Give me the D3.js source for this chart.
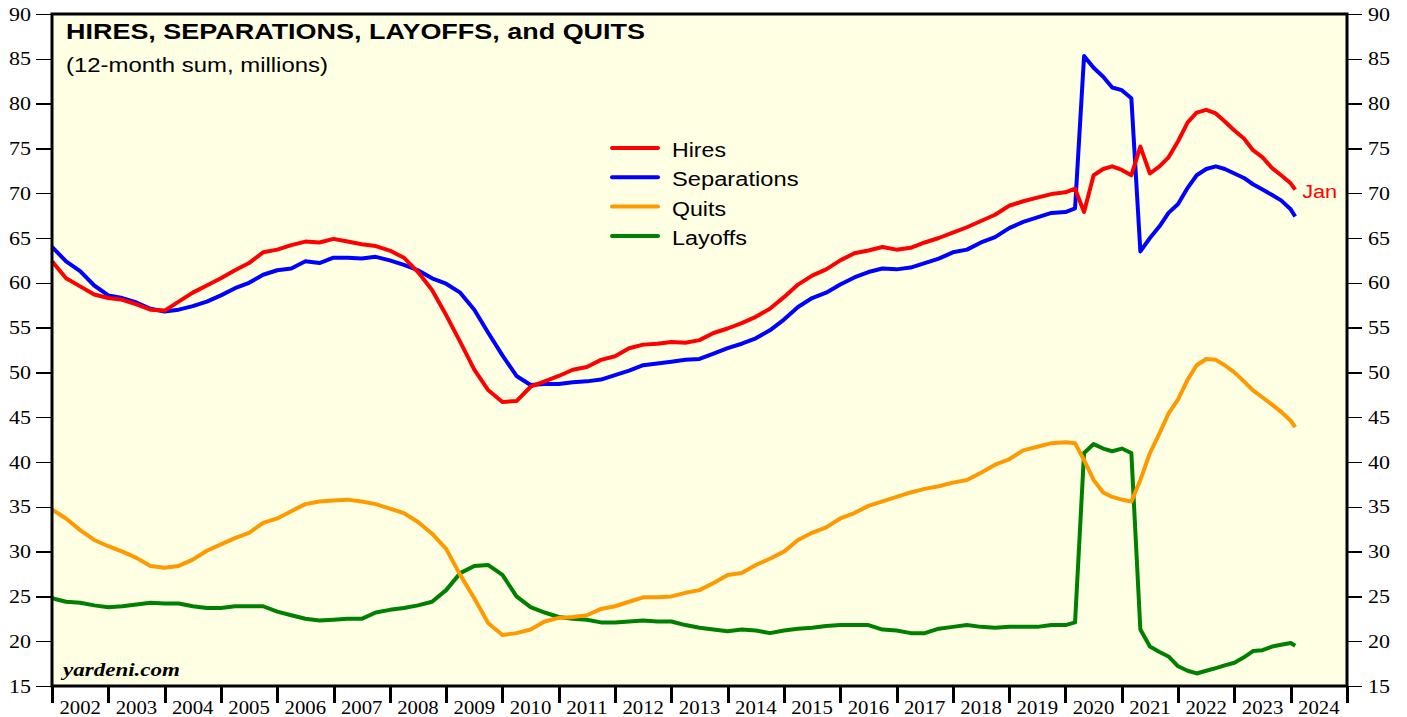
<!DOCTYPE html>
<html lang="en">
<head>
<meta charset="utf-8">
<title>Hires, Separations, Layoffs, and Quits</title>
<script src="https://cdn.jsdelivr.net/npm/d3@7"></script>
<style>
  body { margin: 0; background: #fff; }
  .axis text { font-family: "Liberation Serif", "Times New Roman", serif; font-size: 19px; fill: #000; }
  .axis line { stroke: #000; shape-rendering: crispEdges; }
</style>
</head>
<body>
<script>
// decimal years; quarterly through 2020, then every two months
var dates = [
  2002.00, 2002.25, 2002.50, 2002.75,
  2003.00, 2003.25, 2003.50, 2003.75,
  2004.00, 2004.25, 2004.50, 2004.75,
  2005.00, 2005.25, 2005.50, 2005.75,
  2006.00, 2006.25, 2006.50, 2006.75,
  2007.00, 2007.25, 2007.50, 2007.75,
  2008.00, 2008.25, 2008.50, 2008.75,
  2009.00, 2009.25, 2009.50, 2009.75,
  2010.00, 2010.25, 2010.50, 2010.75,
  2011.00, 2011.25, 2011.50, 2011.75,
  2012.00, 2012.25, 2012.50, 2012.75,
  2013.00, 2013.25, 2013.50, 2013.75,
  2014.00, 2014.25, 2014.50, 2014.75,
  2015.00, 2015.25, 2015.50, 2015.75,
  2016.00, 2016.25, 2016.50, 2016.75,
  2017.00, 2017.25, 2017.50, 2017.75,
  2018.00, 2018.25, 2018.50, 2018.75,
  2019.00, 2019.25, 2019.50, 2019.75,
  2020.00, 2020.17, 2020.33, 2020.50, 2020.67, 2020.83,
  2021.00, 2021.17, 2021.33, 2021.50, 2021.67, 2021.83,
  2022.00, 2022.17, 2022.33, 2022.50, 2022.67, 2022.83,
  2023.00, 2023.17, 2023.33, 2023.50, 2023.67, 2023.83,
  2024.00, 2024.08
];

var hires = [
  62.4, 60.5, 59.6, 58.7,
  58.3, 58.1, 57.6, 57.0,
  56.9, 57.9, 58.9, 59.7,
  60.5, 61.4, 62.2, 63.4,
  63.7, 64.2, 64.6, 64.5,
  64.9, 64.6, 64.3, 64.1,
  63.6, 62.8, 61.2, 59.2,
  56.4, 53.4, 50.3, 48.0,
  46.7, 46.8, 48.4, 49.0,
  49.6, 50.3, 50.6, 51.4,
  51.8, 52.7, 53.1, 53.2,
  53.4, 53.3, 53.6, 54.4,
  54.9, 55.5, 56.2, 57.1,
  58.4, 59.8, 60.8, 61.5,
  62.5, 63.3, 63.6, 64.0,
  63.7, 63.9, 64.5, 65.0,
  65.6, 66.2, 66.9, 67.6,
  68.6, 69.1, 69.5, 69.9,
  70.1, 70.5, 67.9, 72.0, 72.7, 73.0,
  72.6, 72.0, 75.2, 72.2, 73.0, 74.0,
  75.8, 77.9, 79.0, 79.3, 78.9, 78.0,
  77.0, 76.1, 74.8, 74.0, 72.8, 72.0,
  71.1, 70.4
];

var separations = [
  64.0, 62.4, 61.3, 59.7,
  58.6, 58.3, 57.8, 57.1,
  56.8, 57.0, 57.4, 57.9,
  58.6, 59.4, 60.0, 60.9,
  61.4, 61.6, 62.4, 62.2,
  62.8, 62.8, 62.7, 62.9,
  62.5, 62.0, 61.4, 60.5,
  59.9, 58.9, 57.0, 54.4,
  51.9, 49.6, 48.6, 48.7,
  48.7, 48.9, 49.0, 49.2,
  49.7, 50.2, 50.8, 51.0,
  51.2, 51.4, 51.5, 52.1,
  52.7, 53.2, 53.8, 54.7,
  55.9, 57.3, 58.3, 58.9,
  59.8, 60.6, 61.2, 61.6,
  61.5, 61.7, 62.2, 62.7,
  63.4, 63.7, 64.5, 65.1,
  66.1, 66.8, 67.3, 67.8,
  67.9, 68.3, 85.3, 84.0, 83.0, 81.8,
  81.5, 80.6, 63.5, 65.0, 66.3, 67.8,
  68.8, 70.6, 72.0, 72.7, 73.0, 72.7,
  72.2, 71.7, 71.0, 70.4, 69.8, 69.2,
  68.2, 67.4
];

var quits = [
  34.7, 33.7, 32.4, 31.3,
  30.6, 30.0, 29.3, 28.4,
  28.2, 28.4, 29.1, 30.1,
  30.8, 31.5, 32.1, 33.2,
  33.7, 34.5, 35.3, 35.6,
  35.7, 35.8, 35.6, 35.3,
  34.8, 34.3, 33.3, 32.0,
  30.3, 27.4, 24.8, 22.0,
  20.7, 20.9, 21.3, 22.2,
  22.6, 22.7, 22.9, 23.6,
  23.9, 24.4, 24.9, 24.9,
  25.0, 25.4, 25.7, 26.5,
  27.4, 27.6, 28.5, 29.2,
  30.0, 31.3, 32.1, 32.7,
  33.7, 34.3, 35.1, 35.6,
  36.1, 36.6, 37.0, 37.3,
  37.7, 38.0, 38.8, 39.7,
  40.3, 41.3, 41.7, 42.1,
  42.2, 42.1, 40.2, 38.0, 36.6, 36.1,
  35.8, 35.6, 38.0, 41.0, 43.2, 45.4,
  47.0, 49.2, 50.8, 51.5, 51.4, 50.8,
  50.0, 49.0, 48.0, 47.2, 46.4, 45.6,
  44.6, 43.9
];

var layoffs = [
  24.8, 24.4, 24.3, 24.0,
  23.8, 23.9, 24.1, 24.3,
  24.2, 24.2, 23.9, 23.7,
  23.7, 23.9, 23.9, 23.9,
  23.3, 22.9, 22.5, 22.3,
  22.4, 22.5, 22.5, 23.2,
  23.5, 23.7, 24.0, 24.4,
  25.7, 27.6, 28.4, 28.5,
  27.4, 25.0, 23.8, 23.2,
  22.7, 22.5, 22.4, 22.1,
  22.1, 22.2, 22.3, 22.2,
  22.2, 21.8, 21.5, 21.3,
  21.1, 21.3, 21.2, 20.9,
  21.2, 21.4, 21.5, 21.7,
  21.8, 21.8, 21.8, 21.3,
  21.2, 20.9, 20.9, 21.4,
  21.6, 21.8, 21.6, 21.5,
  21.6, 21.6, 21.6, 21.8,
  21.8, 22.1, 41.0, 42.0, 41.5, 41.2,
  41.5, 41.0, 21.3, 19.4, 18.8, 18.3,
  17.2, 16.7, 16.4, 16.7, 17.0, 17.3,
  17.6, 18.2, 18.9, 19.0, 19.4, 19.6,
  19.8, 19.5
];

var yearLabels = d3.range(2002, 2025);
var yTicks = d3.range(15, 91, 5);

var seriesNames = ["Hires", "Separations", "Quits", "Layoffs"];
var seriesColors = ["#ff0000", "#0000ff", "#ff9900", "#008000"];

var w = 1407, h = 717;
var margin = {top: 14, right: 60, bottom: 31, left: 52};

var svg = d3.select("body").append("svg").attr("width", w).attr("height", h);

var x = d3.scaleLinear().domain([2002, 2025]).range([margin.left, w - margin.right]);
var y = d3.scaleLinear().domain([15, 90]).range([h - margin.bottom, margin.top]);

// plot background
svg.append("rect")
  .attr("x", x(2002)).attr("y", y(90))
  .attr("width", x(2025) - x(2002)).attr("height", y(15) - y(90))
  .attr("fill", "#ffffe4");

// y axes, left and right
var yl = svg.append("g").attr("class", "axis")
  .attr("transform", "translate(" + x(2002) + ",0)")
  .call(d3.axisLeft(y).tickValues(yTicks).tickSize(16).tickPadding(5));
var yr = svg.append("g").attr("class", "axis")
  .attr("transform", "translate(" + x(2025) + ",0)")
  .call(d3.axisRight(y).tickValues(yTicks).tickSize(15).tickPadding(6));
[yl, yr].forEach(function(g) {
  g.select(".domain").remove();
  g.selectAll("line").attr("stroke-width", 1.4);
  g.selectAll("text")
    .attr("textLength", function(d) { return String(d).length * 11; })
    .attr("lengthAdjust", "spacingAndGlyphs");
});

// x axis: ticks at year boundaries, labels centred in each year
var xg = svg.append("g").attr("class", "axis")
  .attr("transform", "translate(0," + y(15) + ")")
  .call(d3.axisBottom(x).tickValues(d3.range(2002, 2026)).tickSize(17).tickFormat(""));
xg.select(".domain").remove();
xg.selectAll("line").attr("stroke-width", 3);

svg.append("g").attr("class", "axis")
  .selectAll("text")
  .data(yearLabels)
  .enter()
  .append("text")
  .attr("x", function(d) { return x(d + 0.5); })
  .attr("y", 714)
  .attr("text-anchor", "middle")
  .attr("textLength", 41.5)
  .attr("lengthAdjust", "spacingAndGlyphs")
  .text(function(d) { return d; });

// lines
var line = d3.line()
  .x(function(d, i) { return x(dates[i]); })
  .y(function(d) { return y(d); });

var allSeries = [hires, separations, quits, layoffs];
[3, 2, 1, 0].forEach(function(k) {
  svg.append("path")
    .datum(allSeries[k])
    .attr("fill", "none")
    .attr("stroke", seriesColors[k])
    .attr("stroke-width", 4)
    .attr("stroke-linejoin", "round")
    .attr("d", line);
});

// frame
svg.append("rect")
  .attr("x", x(2002)).attr("y", y(90))
  .attr("width", x(2025) - x(2002)).attr("height", y(15) - y(90))
  .attr("fill", "none")
  .attr("stroke", "#000")
  .attr("stroke-width", 3);

// titles
svg.append("text")
  .attr("x", 66).attr("y", 39)
  .attr("font-family", "Liberation Sans, Arial, sans-serif")
  .attr("font-weight", "bold")
  .attr("font-size", 22)
  .attr("textLength", 579)
  .attr("lengthAdjust", "spacingAndGlyphs")
  .text("HIRES, SEPARATIONS, LAYOFFS, and QUITS");

svg.append("text")
  .attr("x", 66).attr("y", 72)
  .attr("font-family", "Liberation Sans, Arial, sans-serif")
  .attr("font-size", 20)
  .attr("textLength", 262)
  .attr("lengthAdjust", "spacingAndGlyphs")
  .text("(12-month sum, millions)");

// legend
var legendWidths = [54, 126.5, 54, 75];
var legend = svg.append("g");
seriesNames.forEach(function(name, i) {
  var ly = 148 + i * 29.3;
  legend.append("line")
    .attr("x1", 612).attr("x2", 658)
    .attr("y1", ly).attr("y2", ly)
    .attr("stroke", seriesColors[i])
    .attr("stroke-width", 4)
    .attr("stroke-linecap", "round");
  legend.append("text")
    .attr("x", 672).attr("y", ly + 9)
    .attr("font-family", "Liberation Sans, Arial, sans-serif")
    .attr("font-size", 20)
    .attr("textLength", legendWidths[i])
    .attr("lengthAdjust", "spacingAndGlyphs")
    .text(name);
});

// end label
svg.append("text")
  .attr("x", x(dates[dates.length - 1]) + 7)
  .attr("y", y(hires[hires.length - 1]) + 8)
  .attr("font-family", "Liberation Sans, Arial, sans-serif")
  .attr("font-size", 18)
  .attr("fill", "#ff0000")
  .attr("textLength", 35)
  .attr("lengthAdjust", "spacingAndGlyphs")
  .text("Jan");

svg.append("text")
  .attr("x", 63).attr("y", 676)
  .attr("font-family", "Liberation Serif, Times New Roman, serif")
  .attr("font-weight", "bold")
  .attr("font-style", "italic")
  .attr("font-size", 18)
  .attr("textLength", 117)
  .attr("lengthAdjust", "spacingAndGlyphs")
  .text("yardeni.com");
</script>
</body>
</html>
